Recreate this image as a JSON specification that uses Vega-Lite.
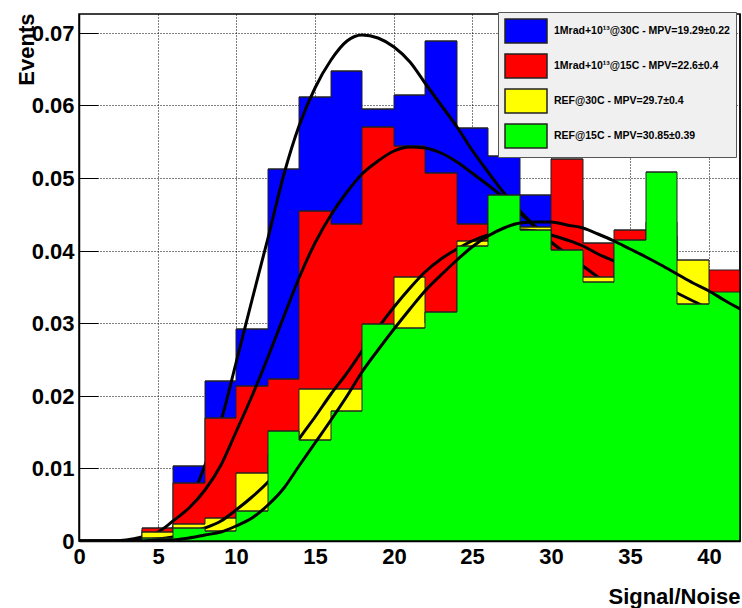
{
  "$schema": "https://vega.github.io/schema/vega-lite/v6.json",
  "width": 661,
  "height": 527,
  "autosize": {"type": "none"},
  "padding": {"left": 79, "top": 14, "right": 2, "bottom": 67},
  "background": "white",
  "view": {"stroke": "#000", "strokeWidth": 1.5, "fill": "transparent"},
  "datasets": {
    "hist": [
      {"k":"b","series":"1Mrad+10¹³@30C - MPV=19.29±0.22","snr":0,"snr_hi":2,"events":0},
      {"k":"b","series":"1Mrad+10¹³@30C - MPV=19.29±0.22","snr":2,"snr_hi":4,"events":0},
      {"k":"b","series":"1Mrad+10¹³@30C - MPV=19.29±0.22","snr":4,"snr_hi":6,"events":0.0015},
      {"k":"b","series":"1Mrad+10¹³@30C - MPV=19.29±0.22","snr":6,"snr_hi":8,"events":0.0104},
      {"k":"b","series":"1Mrad+10¹³@30C - MPV=19.29±0.22","snr":8,"snr_hi":10,"events":0.0221},
      {"k":"b","series":"1Mrad+10¹³@30C - MPV=19.29±0.22","snr":10,"snr_hi":12,"events":0.0292},
      {"k":"b","series":"1Mrad+10¹³@30C - MPV=19.29±0.22","snr":12,"snr_hi":14,"events":0.0512},
      {"k":"b","series":"1Mrad+10¹³@30C - MPV=19.29±0.22","snr":14,"snr_hi":16,"events":0.0611},
      {"k":"b","series":"1Mrad+10¹³@30C - MPV=19.29±0.22","snr":16,"snr_hi":18,"events":0.0647},
      {"k":"b","series":"1Mrad+10¹³@30C - MPV=19.29±0.22","snr":18,"snr_hi":20,"events":0.0595},
      {"k":"b","series":"1Mrad+10¹³@30C - MPV=19.29±0.22","snr":20,"snr_hi":22,"events":0.0615},
      {"k":"b","series":"1Mrad+10¹³@30C - MPV=19.29±0.22","snr":22,"snr_hi":24,"events":0.0689},
      {"k":"b","series":"1Mrad+10¹³@30C - MPV=19.29±0.22","snr":24,"snr_hi":26,"events":0.0569},
      {"k":"b","series":"1Mrad+10¹³@30C - MPV=19.29±0.22","snr":26,"snr_hi":28,"events":0.0530},
      {"k":"b","series":"1Mrad+10¹³@30C - MPV=19.29±0.22","snr":28,"snr_hi":30,"events":0.0477},
      {"k":"b","series":"1Mrad+10¹³@30C - MPV=19.29±0.22","snr":30,"snr_hi":32,"events":0.0470},
      {"k":"b","series":"1Mrad+10¹³@30C - MPV=19.29±0.22","snr":32,"snr_hi":34,"events":0.0380},
      {"k":"b","series":"1Mrad+10¹³@30C - MPV=19.29±0.22","snr":34,"snr_hi":36,"events":0.0400},
      {"k":"b","series":"1Mrad+10¹³@30C - MPV=19.29±0.22","snr":36,"snr_hi":38,"events":0.0350},
      {"k":"b","series":"1Mrad+10¹³@30C - MPV=19.29±0.22","snr":38,"snr_hi":40,"events":0.0330},
      {"k":"b","series":"1Mrad+10¹³@30C - MPV=19.29±0.22","snr":40,"snr_hi":42,"events":0.0310},
      {"k":"r","series":"1Mrad+10¹³@15C - MPV=22.6±0.4","snr":0,"snr_hi":2,"events":0},
      {"k":"r","series":"1Mrad+10¹³@15C - MPV=22.6±0.4","snr":2,"snr_hi":4,"events":0},
      {"k":"r","series":"1Mrad+10¹³@15C - MPV=22.6±0.4","snr":4,"snr_hi":6,"events":0.0018},
      {"k":"r","series":"1Mrad+10¹³@15C - MPV=22.6±0.4","snr":6,"snr_hi":8,"events":0.0080},
      {"k":"r","series":"1Mrad+10¹³@15C - MPV=22.6±0.4","snr":8,"snr_hi":10,"events":0.0169},
      {"k":"r","series":"1Mrad+10¹³@15C - MPV=22.6±0.4","snr":10,"snr_hi":12,"events":0.0214},
      {"k":"r","series":"1Mrad+10¹³@15C - MPV=22.6±0.4","snr":12,"snr_hi":14,"events":0.0223},
      {"k":"r","series":"1Mrad+10¹³@15C - MPV=22.6±0.4","snr":14,"snr_hi":16,"events":0.0454},
      {"k":"r","series":"1Mrad+10¹³@15C - MPV=22.6±0.4","snr":16,"snr_hi":18,"events":0.0437},
      {"k":"r","series":"1Mrad+10¹³@15C - MPV=22.6±0.4","snr":18,"snr_hi":20,"events":0.0570},
      {"k":"r","series":"1Mrad+10¹³@15C - MPV=22.6±0.4","snr":20,"snr_hi":22,"events":0.0544},
      {"k":"r","series":"1Mrad+10¹³@15C - MPV=22.6±0.4","snr":22,"snr_hi":24,"events":0.0507},
      {"k":"r","series":"1Mrad+10¹³@15C - MPV=22.6±0.4","snr":24,"snr_hi":26,"events":0.0437},
      {"k":"r","series":"1Mrad+10¹³@15C - MPV=22.6±0.4","snr":26,"snr_hi":28,"events":0.0450},
      {"k":"r","series":"1Mrad+10¹³@15C - MPV=22.6±0.4","snr":28,"snr_hi":30,"events":0.0410},
      {"k":"r","series":"1Mrad+10¹³@15C - MPV=22.6±0.4","snr":30,"snr_hi":32,"events":0.0526},
      {"k":"r","series":"1Mrad+10¹³@15C - MPV=22.6±0.4","snr":32,"snr_hi":34,"events":0.0410},
      {"k":"r","series":"1Mrad+10¹³@15C - MPV=22.6±0.4","snr":34,"snr_hi":36,"events":0.0428},
      {"k":"r","series":"1Mrad+10¹³@15C - MPV=22.6±0.4","snr":36,"snr_hi":38,"events":0.0420},
      {"k":"r","series":"1Mrad+10¹³@15C - MPV=22.6±0.4","snr":38,"snr_hi":40,"events":0.0360},
      {"k":"r","series":"1Mrad+10¹³@15C - MPV=22.6±0.4","snr":40,"snr_hi":42,"events":0.0374},
      {"k":"y","series":"REF@30C - MPV=29.7±0.4","snr":0,"snr_hi":2,"events":0},
      {"k":"y","series":"REF@30C - MPV=29.7±0.4","snr":2,"snr_hi":4,"events":0},
      {"k":"y","series":"REF@30C - MPV=29.7±0.4","snr":4,"snr_hi":6,"events":0.0012},
      {"k":"y","series":"REF@30C - MPV=29.7±0.4","snr":6,"snr_hi":8,"events":0.0023},
      {"k":"y","series":"REF@30C - MPV=29.7±0.4","snr":8,"snr_hi":10,"events":0.0031},
      {"k":"y","series":"REF@30C - MPV=29.7±0.4","snr":10,"snr_hi":12,"events":0.0093},
      {"k":"y","series":"REF@30C - MPV=29.7±0.4","snr":12,"snr_hi":14,"events":0.0120},
      {"k":"y","series":"REF@30C - MPV=29.7±0.4","snr":14,"snr_hi":16,"events":0.0209},
      {"k":"y","series":"REF@30C - MPV=29.7±0.4","snr":16,"snr_hi":18,"events":0.0209},
      {"k":"y","series":"REF@30C - MPV=29.7±0.4","snr":18,"snr_hi":20,"events":0.0275},
      {"k":"y","series":"REF@30C - MPV=29.7±0.4","snr":20,"snr_hi":22,"events":0.0364},
      {"k":"y","series":"REF@30C - MPV=29.7±0.4","snr":22,"snr_hi":24,"events":0.0300},
      {"k":"y","series":"REF@30C - MPV=29.7±0.4","snr":24,"snr_hi":26,"events":0.0413},
      {"k":"y","series":"REF@30C - MPV=29.7±0.4","snr":26,"snr_hi":28,"events":0.0460},
      {"k":"y","series":"REF@30C - MPV=29.7±0.4","snr":28,"snr_hi":30,"events":0.0433},
      {"k":"y","series":"REF@30C - MPV=29.7±0.4","snr":30,"snr_hi":32,"events":0.0390},
      {"k":"y","series":"REF@30C - MPV=29.7±0.4","snr":32,"snr_hi":34,"events":0.0364},
      {"k":"y","series":"REF@30C - MPV=29.7±0.4","snr":34,"snr_hi":36,"events":0.0405},
      {"k":"y","series":"REF@30C - MPV=29.7±0.4","snr":36,"snr_hi":38,"events":0.0440},
      {"k":"y","series":"REF@30C - MPV=29.7±0.4","snr":38,"snr_hi":40,"events":0.0387},
      {"k":"y","series":"REF@30C - MPV=29.7±0.4","snr":40,"snr_hi":42,"events":0.0330},
      {"k":"g","series":"REF@15C - MPV=30.85±0.39","snr":0,"snr_hi":2,"events":0},
      {"k":"g","series":"REF@15C - MPV=30.85±0.39","snr":2,"snr_hi":4,"events":0},
      {"k":"g","series":"REF@15C - MPV=30.85±0.39","snr":4,"snr_hi":6,"events":0.0004},
      {"k":"g","series":"REF@15C - MPV=30.85±0.39","snr":6,"snr_hi":8,"events":0.0018},
      {"k":"g","series":"REF@15C - MPV=30.85±0.39","snr":8,"snr_hi":10,"events":0.0014},
      {"k":"g","series":"REF@15C - MPV=30.85±0.39","snr":10,"snr_hi":12,"events":0.0041},
      {"k":"g","series":"REF@15C - MPV=30.85±0.39","snr":12,"snr_hi":14,"events":0.0152},
      {"k":"g","series":"REF@15C - MPV=30.85±0.39","snr":14,"snr_hi":16,"events":0.0139},
      {"k":"g","series":"REF@15C - MPV=30.85±0.39","snr":16,"snr_hi":18,"events":0.0179},
      {"k":"g","series":"REF@15C - MPV=30.85±0.39","snr":18,"snr_hi":20,"events":0.0299},
      {"k":"g","series":"REF@15C - MPV=30.85±0.39","snr":20,"snr_hi":22,"events":0.0294},
      {"k":"g","series":"REF@15C - MPV=30.85±0.39","snr":22,"snr_hi":24,"events":0.0316},
      {"k":"g","series":"REF@15C - MPV=30.85±0.39","snr":24,"snr_hi":26,"events":0.0406},
      {"k":"g","series":"REF@15C - MPV=30.85±0.39","snr":26,"snr_hi":28,"events":0.0477},
      {"k":"g","series":"REF@15C - MPV=30.85±0.39","snr":28,"snr_hi":30,"events":0.0428},
      {"k":"g","series":"REF@15C - MPV=30.85±0.39","snr":30,"snr_hi":32,"events":0.0401},
      {"k":"g","series":"REF@15C - MPV=30.85±0.39","snr":32,"snr_hi":34,"events":0.0357},
      {"k":"g","series":"REF@15C - MPV=30.85±0.39","snr":34,"snr_hi":36,"events":0.0415},
      {"k":"g","series":"REF@15C - MPV=30.85±0.39","snr":36,"snr_hi":38,"events":0.0508},
      {"k":"g","series":"REF@15C - MPV=30.85±0.39","snr":38,"snr_hi":40,"events":0.0326},
      {"k":"g","series":"REF@15C - MPV=30.85±0.39","snr":40,"snr_hi":42,"events":0.0343}
    ],
    "fit": [
      {"k":"b","snr":0,"events":0},{"k":"b","snr":1,"events":0},{"k":"b","snr":2,"events":0},{"k":"b","snr":3,"events":0.00002},{"k":"b","snr":4,"events":0.0001},{"k":"b","snr":5,"events":0.0005},{"k":"b","snr":6,"events":0.0018},{"k":"b","snr":7,"events":0.0050},{"k":"b","snr":8,"events":0.0105},{"k":"b","snr":9,"events":0.0165},{"k":"b","snr":10,"events":0.0245},{"k":"b","snr":11,"events":0.0332},{"k":"b","snr":12,"events":0.0418},{"k":"b","snr":13,"events":0.0505},{"k":"b","snr":14,"events":0.0572},{"k":"b","snr":15,"events":0.0624},{"k":"b","snr":16,"events":0.0663},{"k":"b","snr":17,"events":0.0689},{"k":"b","snr":18,"events":0.0697},{"k":"b","snr":19,"events":0.0693},{"k":"b","snr":20,"events":0.0681},{"k":"b","snr":21,"events":0.0660},{"k":"b","snr":22,"events":0.0631},{"k":"b","snr":23,"events":0.0600},{"k":"b","snr":24,"events":0.0570},{"k":"b","snr":25,"events":0.0538},{"k":"b","snr":26,"events":0.0508},{"k":"b","snr":27,"events":0.0479},{"k":"b","snr":28,"events":0.0455},{"k":"b","snr":29,"events":0.0434},{"k":"b","snr":30,"events":0.0416},{"k":"b","snr":31,"events":0.0398},{"k":"b","snr":32,"events":0.0381},{"k":"b","snr":33,"events":0.0365},{"k":"b","snr":34,"events":0.0350},{"k":"b","snr":35,"events":0.0336},{"k":"b","snr":36,"events":0.0322},{"k":"b","snr":37,"events":0.0309},{"k":"b","snr":38,"events":0.0297},{"k":"b","snr":39,"events":0.0285},{"k":"b","snr":40,"events":0.0274},{"k":"b","snr":41,"events":0.0264},{"k":"b","snr":42,"events":0.0254},
      {"k":"r","snr":0,"events":0},{"k":"r","snr":1,"events":0},{"k":"r","snr":2,"events":0},{"k":"r","snr":3,"events":0.0001},{"k":"r","snr":4,"events":0.0005},{"k":"r","snr":5,"events":0.0013},{"k":"r","snr":6,"events":0.0027},{"k":"r","snr":7,"events":0.0045},{"k":"r","snr":8,"events":0.0070},{"k":"r","snr":9,"events":0.0105},{"k":"r","snr":10,"events":0.0150},{"k":"r","snr":11,"events":0.0200},{"k":"r","snr":12,"events":0.0253},{"k":"r","snr":13,"events":0.0310},{"k":"r","snr":14,"events":0.0362},{"k":"r","snr":15,"events":0.0410},{"k":"r","snr":16,"events":0.0449},{"k":"r","snr":17,"events":0.0481},{"k":"r","snr":18,"events":0.0506},{"k":"r","snr":19,"events":0.0524},{"k":"r","snr":20,"events":0.0537},{"k":"r","snr":21,"events":0.0543},{"k":"r","snr":22,"events":0.0542},{"k":"r","snr":23,"events":0.0535},{"k":"r","snr":24,"events":0.0522},{"k":"r","snr":25,"events":0.0507},{"k":"r","snr":26,"events":0.0491},{"k":"r","snr":27,"events":0.0473},{"k":"r","snr":28,"events":0.0452},{"k":"r","snr":29,"events":0.0432},{"k":"r","snr":30,"events":0.0412},{"k":"r","snr":31,"events":0.0395},{"k":"r","snr":32,"events":0.0379},{"k":"r","snr":33,"events":0.0364},{"k":"r","snr":34,"events":0.0350},{"k":"r","snr":35,"events":0.0337},{"k":"r","snr":36,"events":0.0324},{"k":"r","snr":37,"events":0.0312},{"k":"r","snr":38,"events":0.0300},{"k":"r","snr":39,"events":0.0289},{"k":"r","snr":40,"events":0.0278},{"k":"r","snr":41,"events":0.0268},{"k":"r","snr":42,"events":0.0258},
      {"k":"y","snr":0,"events":0},{"k":"y","snr":1,"events":0},{"k":"y","snr":2,"events":0},{"k":"y","snr":3,"events":0},{"k":"y","snr":4,"events":0.0001},{"k":"y","snr":5,"events":0.0003},{"k":"y","snr":6,"events":0.0006},{"k":"y","snr":7,"events":0.0011},{"k":"y","snr":8,"events":0.0018},{"k":"y","snr":9,"events":0.0028},{"k":"y","snr":10,"events":0.0043},{"k":"y","snr":11,"events":0.0060},{"k":"y","snr":12,"events":0.0081},{"k":"y","snr":13,"events":0.0108},{"k":"y","snr":14,"events":0.0140},{"k":"y","snr":15,"events":0.0171},{"k":"y","snr":16,"events":0.0202},{"k":"y","snr":17,"events":0.0232},{"k":"y","snr":18,"events":0.0262},{"k":"y","snr":19,"events":0.0294},{"k":"y","snr":20,"events":0.0323},{"k":"y","snr":21,"events":0.0349},{"k":"y","snr":22,"events":0.0370},{"k":"y","snr":23,"events":0.0388},{"k":"y","snr":24,"events":0.0402},{"k":"y","snr":25,"events":0.0413},{"k":"y","snr":26,"events":0.0421},{"k":"y","snr":27,"events":0.0427},{"k":"y","snr":28,"events":0.0429},{"k":"y","snr":29,"events":0.0427},{"k":"y","snr":30,"events":0.0421},{"k":"y","snr":31,"events":0.0414},{"k":"y","snr":32,"events":0.0406},{"k":"y","snr":33,"events":0.0396},{"k":"y","snr":34,"events":0.0386},{"k":"y","snr":35,"events":0.0375},{"k":"y","snr":36,"events":0.0364},{"k":"y","snr":37,"events":0.0353},{"k":"y","snr":38,"events":0.0342},{"k":"y","snr":39,"events":0.0331},{"k":"y","snr":40,"events":0.0320},{"k":"y","snr":41,"events":0.0310},{"k":"y","snr":42,"events":0.0300},
      {"k":"g","snr":0,"events":0},{"k":"g","snr":1,"events":0},{"k":"g","snr":2,"events":0},{"k":"g","snr":3,"events":0},{"k":"g","snr":4,"events":0.00005},{"k":"g","snr":5,"events":0.0001},{"k":"g","snr":6,"events":0.0002},{"k":"g","snr":7,"events":0.0004},{"k":"g","snr":8,"events":0.0008},{"k":"g","snr":9,"events":0.0013},{"k":"g","snr":10,"events":0.0020},{"k":"g","snr":11,"events":0.0032},{"k":"g","snr":12,"events":0.0050},{"k":"g","snr":13,"events":0.0073},{"k":"g","snr":14,"events":0.0103},{"k":"g","snr":15,"events":0.0135},{"k":"g","snr":16,"events":0.0167},{"k":"g","snr":17,"events":0.0200},{"k":"g","snr":18,"events":0.0233},{"k":"g","snr":19,"events":0.0263},{"k":"g","snr":20,"events":0.0292},{"k":"g","snr":21,"events":0.0320},{"k":"g","snr":22,"events":0.0345},{"k":"g","snr":23,"events":0.0367},{"k":"g","snr":24,"events":0.0387},{"k":"g","snr":25,"events":0.0405},{"k":"g","snr":26,"events":0.0420},{"k":"g","snr":27,"events":0.0431},{"k":"g","snr":28,"events":0.0438},{"k":"g","snr":29,"events":0.0440},{"k":"g","snr":30,"events":0.0439},{"k":"g","snr":31,"events":0.0436},{"k":"g","snr":32,"events":0.0431},{"k":"g","snr":33,"events":0.0423},{"k":"g","snr":34,"events":0.0413},{"k":"g","snr":35,"events":0.0402},{"k":"g","snr":36,"events":0.0391},{"k":"g","snr":37,"events":0.0380},{"k":"g","snr":38,"events":0.0368},{"k":"g","snr":39,"events":0.0356},{"k":"g","snr":40,"events":0.0344},{"k":"g","snr":41,"events":0.0332},{"k":"g","snr":42,"events":0.0320}
    ]
  },
  "layer": [
    {
      "data": {"name": "hist"},
      "transform": [{"filter": "datum.k == 'b'"}],
      "mark": {"type": "rect", "strokeWidth": 0},
      "encoding": {
        "x": {"field": "snr", "type": "quantitative", "title": "Signal/Noise",
          "scale": {"domain": [0, 42], "nice": false, "zero": false, "round": true},
          "axis": {
            "values": [0, 5, 10, 15, 20, 25, 30, 35, 40],
            "format": "d", "zindex": 0,
            "tickSize": -15,
            "grid": true, "gridColor": "#000", "gridDash": [1, 2], "gridWidth": 1,
            "tickColor": "#000", "tickWidth": 1, "domainColor": "#000", "domainWidth": 1.5,
            "labelFont": "Liberation Sans", "labelFontWeight": "bold", "labelFontSize": 22, "labelColor": "#000",
            "labelPadding": 20, "labelBaseline": "top", "labelOverlap": false, "labelFlush": false,
            "titleFont": "Liberation Sans", "titleFontWeight": "bold", "titleFontSize": 22, "titleColor": "#000",
            "titleAlign": "right", "titleBaseline": "alphabetic", "titleX": 661, "titleY": 62, "titleAnchor": "end"
          }
        },
        "x2": {"field": "snr_hi"},
        "y": {"field": "events", "type": "quantitative", "title": "Events",
          "scale": {"domain": [0, 0.0726], "nice": false, "zero": true, "round": true},
          "axis": {
            "values": [0, 0.01, 0.02, 0.03, 0.04, 0.05, 0.06, 0.07],
            "labelExpr": "datum.value == 0 ? '0' : format(datum.value, '.2f')", "zindex": 0,
            "tickSize": -19,
            "grid": true, "gridColor": "#000", "gridDash": [1, 2], "gridWidth": 1,
            "tickColor": "#000", "tickWidth": 1, "domainColor": "#000", "domainWidth": 1.5,
            "labelFont": "Liberation Sans", "labelFontWeight": "bold", "labelFontSize": 22, "labelColor": "#000",
            "labelPadding": 24, "labelOverlap": false, "labelFlush": false,
            "titleFont": "Liberation Sans", "titleFontWeight": "bold", "titleFontSize": 22, "titleColor": "#000",
            "titleAngle": 270, "titleAlign": "right", "titleBaseline": "alphabetic", "titleX": -46, "titleY": -1, "titleAnchor": "end"
          }
        },
        "y2": {"datum": 0},
        "color": {"field": "series", "type": "nominal",
          "scale": {
            "domain": ["1Mrad+10¹³@30C - MPV=19.29±0.22", "1Mrad+10¹³@15C - MPV=22.6±0.4", "REF@30C - MPV=29.7±0.4", "REF@15C - MPV=30.85±0.39"],
            "range": ["#0000ff", "#ff0000", "#ffff00", "#00ff00"]
          },
          "legend": {
            "orient": "none", "legendX": 419, "legendY": -2, "title": null,
            "symbolType": "M-1,-1L2.5,-1L2.5,1L-1,1Z", "symbolSize": 576,
            "symbolStrokeColor": "#222", "symbolOpacity": 1,
            "labelFont": "Liberation Sans", "labelFontWeight": "bold", "labelFontSize": 10.5, "labelColor": "#000",
            "labelOffset": 24, "labelLimit": 400, "rowPadding": 5, "padding": 6,
            "fillColor": "#f0f0f0", "strokeColor": "#555"
          }
        }
      }
    },
    {"data": {"name": "hist"}, "transform": [{"filter": "datum.k == 'b'"}],
     "mark": {"type": "line", "interpolate": "step-after", "color": "#222", "strokeWidth": 1},
     "encoding": {"x": {"field": "snr", "type": "quantitative", "title": "Signal/Noise"}, "y": {"field": "events", "type": "quantitative", "title": "Events"}}},
    {"data": {"name": "hist"}, "transform": [{"filter": "datum.k == 'b'"}],
     "mark": {"type": "rule", "color": "#222", "strokeWidth": 1},
     "encoding": {"x": {"field": "snr", "type": "quantitative", "title": "Signal/Noise"}, "x2": {"field": "snr_hi"}, "y": {"field": "events", "type": "quantitative", "title": "Events"}}},
    {"data": {"name": "fit"}, "transform": [{"filter": "datum.k == 'b'"}],
     "mark": {"type": "line", "interpolate": "monotone", "color": "#000", "strokeWidth": 3, "clip": true},
     "encoding": {"x": {"field": "snr", "type": "quantitative", "title": "Signal/Noise"}, "y": {"field": "events", "type": "quantitative", "title": "Events"}}},

    {"data": {"name": "hist"}, "transform": [{"filter": "datum.k == 'r'"}],
     "mark": {"type": "rect", "strokeWidth": 0},
     "encoding": {"x": {"field": "snr", "type": "quantitative", "title": "Signal/Noise"}, "x2": {"field": "snr_hi"}, "y": {"field": "events", "type": "quantitative", "title": "Events"}, "y2": {"datum": 0}, "color": {"field": "series", "type": "nominal"}}},
    {"data": {"name": "hist"}, "transform": [{"filter": "datum.k == 'r'"}],
     "mark": {"type": "line", "interpolate": "step-after", "color": "#222", "strokeWidth": 1},
     "encoding": {"x": {"field": "snr", "type": "quantitative", "title": "Signal/Noise"}, "y": {"field": "events", "type": "quantitative", "title": "Events"}}},
    {"data": {"name": "hist"}, "transform": [{"filter": "datum.k == 'r'"}],
     "mark": {"type": "rule", "color": "#222", "strokeWidth": 1},
     "encoding": {"x": {"field": "snr", "type": "quantitative", "title": "Signal/Noise"}, "x2": {"field": "snr_hi"}, "y": {"field": "events", "type": "quantitative", "title": "Events"}}},
    {"data": {"name": "fit"}, "transform": [{"filter": "datum.k == 'r'"}],
     "mark": {"type": "line", "interpolate": "monotone", "color": "#000", "strokeWidth": 3, "clip": true},
     "encoding": {"x": {"field": "snr", "type": "quantitative", "title": "Signal/Noise"}, "y": {"field": "events", "type": "quantitative", "title": "Events"}}},

    {"data": {"name": "hist"}, "transform": [{"filter": "datum.k == 'y'"}],
     "mark": {"type": "rect", "strokeWidth": 0},
     "encoding": {"x": {"field": "snr", "type": "quantitative", "title": "Signal/Noise"}, "x2": {"field": "snr_hi"}, "y": {"field": "events", "type": "quantitative", "title": "Events"}, "y2": {"datum": 0}, "color": {"field": "series", "type": "nominal"}}},
    {"data": {"name": "hist"}, "transform": [{"filter": "datum.k == 'y'"}],
     "mark": {"type": "line", "interpolate": "step-after", "color": "#222", "strokeWidth": 1},
     "encoding": {"x": {"field": "snr", "type": "quantitative", "title": "Signal/Noise"}, "y": {"field": "events", "type": "quantitative", "title": "Events"}}},
    {"data": {"name": "hist"}, "transform": [{"filter": "datum.k == 'y'"}],
     "mark": {"type": "rule", "color": "#222", "strokeWidth": 1},
     "encoding": {"x": {"field": "snr", "type": "quantitative", "title": "Signal/Noise"}, "x2": {"field": "snr_hi"}, "y": {"field": "events", "type": "quantitative", "title": "Events"}}},
    {"data": {"name": "fit"}, "transform": [{"filter": "datum.k == 'y'"}],
     "mark": {"type": "line", "interpolate": "monotone", "color": "#000", "strokeWidth": 3, "clip": true},
     "encoding": {"x": {"field": "snr", "type": "quantitative", "title": "Signal/Noise"}, "y": {"field": "events", "type": "quantitative", "title": "Events"}}},

    {"data": {"name": "hist"}, "transform": [{"filter": "datum.k == 'g'"}],
     "mark": {"type": "rect", "strokeWidth": 0},
     "encoding": {"x": {"field": "snr", "type": "quantitative", "title": "Signal/Noise"}, "x2": {"field": "snr_hi"}, "y": {"field": "events", "type": "quantitative", "title": "Events"}, "y2": {"datum": 0}, "color": {"field": "series", "type": "nominal"}}},
    {"data": {"name": "hist"}, "transform": [{"filter": "datum.k == 'g'"}],
     "mark": {"type": "line", "interpolate": "step-after", "color": "#222", "strokeWidth": 1},
     "encoding": {"x": {"field": "snr", "type": "quantitative", "title": "Signal/Noise"}, "y": {"field": "events", "type": "quantitative", "title": "Events"}}},
    {"data": {"name": "hist"}, "transform": [{"filter": "datum.k == 'g'"}],
     "mark": {"type": "rule", "color": "#222", "strokeWidth": 1},
     "encoding": {"x": {"field": "snr", "type": "quantitative", "title": "Signal/Noise"}, "x2": {"field": "snr_hi"}, "y": {"field": "events", "type": "quantitative", "title": "Events"}}},
    {"data": {"name": "fit"}, "transform": [{"filter": "datum.k == 'g'"}],
     "mark": {"type": "line", "interpolate": "monotone", "color": "#000", "strokeWidth": 3, "clip": true},
     "encoding": {"x": {"field": "snr", "type": "quantitative", "title": "Signal/Noise"}, "y": {"field": "events", "type": "quantitative", "title": "Events"}}},

    {"data": {"name": "hist"}, "transform": [{"filter": "datum.k == 'g' && datum.snr == 0"}],
     "mark": {"type": "rule", "color": "#000", "strokeWidth": 1.5},
     "encoding": {"y": {"field": "events", "type": "quantitative", "title": "Events"}}},
    {"data": {"name": "hist"}, "transform": [{"filter": "datum.k == 'g' && datum.snr == 40"}],
     "mark": {"type": "rule", "color": "#000", "strokeWidth": 1.5},
     "encoding": {"x": {"field": "snr_hi", "type": "quantitative", "title": "Signal/Noise"}}}
  ]
}
